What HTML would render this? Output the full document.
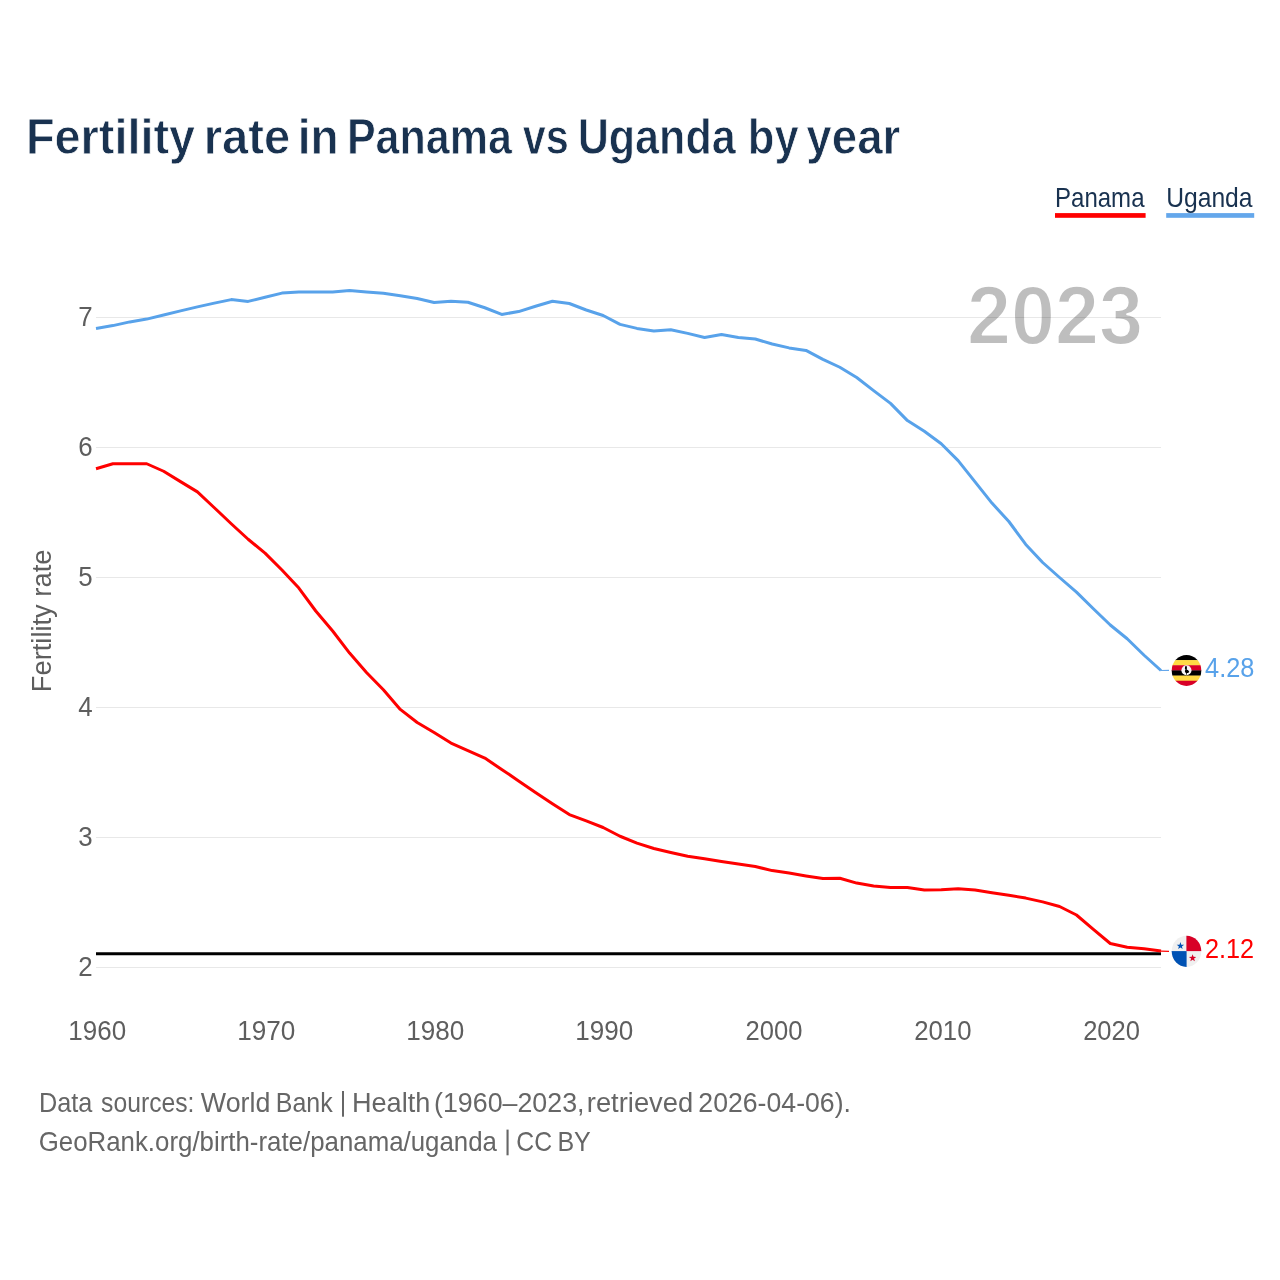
<!DOCTYPE html>
<html lang="en"><head><meta charset="utf-8"><title>Fertility rate in Panama vs Uganda by year</title>
<style>html,body{margin:0;padding:0;background:#fff;}body{width:1280px;height:1280px;overflow:hidden;}svg{display:block;font-family:"Liberation Sans",sans-serif;will-change:transform;}text{white-space:pre;}</style></head><body>
<svg width="1280" height="1280" viewBox="0 0 1280 1280">
<rect width="1280" height="1280" fill="#ffffff"/>
<text id="t1" x="967.07" y="343.9" textLength="175.94" lengthAdjust="spacingAndGlyphs" font-size="82.8" font-weight="700" fill="#bebebe" stroke="#ffffff" stroke-width="1.8" stroke-linejoin="round">2023</text>
<g stroke="#000000" stroke-opacity="0.092" stroke-width="1" shape-rendering="crispEdges">
<line x1="96.0" x2="1161.0" y1="317.5" y2="317.5"/>
<line x1="96.0" x2="1161.0" y1="447.5" y2="447.5"/>
<line x1="96.0" x2="1161.0" y1="577.5" y2="577.5"/>
<line x1="96.0" x2="1161.0" y1="707.5" y2="707.5"/>
<line x1="96.0" x2="1161.0" y1="837.5" y2="837.5"/>
<line x1="96.0" x2="1161.0" y1="967.5" y2="967.5"/>
</g>
<g font-size="27.2" fill="#5e5e5e" text-anchor="end">
<text x="92.6" y="326.20" textLength="14.4" lengthAdjust="spacingAndGlyphs">7</text>
<text x="92.6" y="456.20" textLength="14.4" lengthAdjust="spacingAndGlyphs">6</text>
<text x="92.6" y="586.20" textLength="14.4" lengthAdjust="spacingAndGlyphs">5</text>
<text x="92.6" y="716.20" textLength="14.4" lengthAdjust="spacingAndGlyphs">4</text>
<text x="92.6" y="846.20" textLength="14.4" lengthAdjust="spacingAndGlyphs">3</text>
<text x="92.6" y="976.20" textLength="14.4" lengthAdjust="spacingAndGlyphs">2</text>
</g>
<g font-size="27.0" fill="#5e5e5e">
<text id="t2" x="68.30" y="1040.1" textLength="57.80" lengthAdjust="spacingAndGlyphs">1960</text>
<text id="t3" x="237.24" y="1040.1" textLength="58.13" lengthAdjust="spacingAndGlyphs">1970</text>
<text id="t4" x="406.25" y="1040.1" textLength="58.00" lengthAdjust="spacingAndGlyphs">1980</text>
<text id="t5" x="575.29" y="1040.1" textLength="57.95" lengthAdjust="spacingAndGlyphs">1990</text>
<text id="t6" x="745.54" y="1040.1" textLength="56.93" lengthAdjust="spacingAndGlyphs">2000</text>
<text id="t7" x="914.20" y="1040.1" textLength="57.28" lengthAdjust="spacingAndGlyphs">2010</text>
<text id="t8" x="1083.16" y="1040.1" textLength="56.85" lengthAdjust="spacingAndGlyphs">2020</text>
</g>
<text transform="translate(51,692.2) rotate(-90)" font-size="26.8" fill="#5e5e5e" textLength="142.6" lengthAdjust="spacingAndGlyphs">Fertility rate</text>
<line x1="96" x2="1161" y1="953.75" y2="953.75" stroke="#000" stroke-width="3"/>
<polyline fill="none" stroke="#58a2ea" stroke-width="3" stroke-linejoin="round" stroke-linecap="butt" points="96.00,328.40 112.90,325.60 129.81,321.90 146.71,319.10 163.62,315.00 180.52,310.90 197.43,306.90 214.33,303.10 231.24,299.60 248.14,301.40 265.05,297.25 281.95,293.10 298.86,291.90 315.76,291.90 332.67,291.90 349.57,290.50 366.48,291.90 383.38,293.25 400.29,295.80 417.19,298.50 434.10,302.50 451.00,301.25 467.90,302.25 484.81,307.75 501.71,314.40 518.62,311.60 535.52,306.25 552.43,301.20 569.33,303.50 586.24,310.00 603.14,315.50 620.05,324.40 636.95,328.40 653.86,330.90 670.76,329.75 687.67,333.40 704.57,337.50 721.48,334.60 738.38,337.50 755.29,339.00 772.19,344.00 789.10,347.90 806.00,350.40 822.90,359.40 839.81,367.25 856.71,377.50 873.62,390.60 890.52,403.40 907.43,420.60 924.33,431.25 941.24,443.75 958.14,460.60 975.05,481.90 991.95,503.10 1008.86,521.50 1025.76,544.40 1042.67,562.50 1059.57,577.50 1076.48,592.10 1093.38,608.75 1110.29,625.00 1127.19,638.75 1144.10,655.25 1161.00,670.50"/>
<polyline fill="none" stroke="#ff0000" stroke-width="3" stroke-linejoin="round" stroke-linecap="butt" points="96.00,468.75 112.90,463.75 129.81,463.75 146.71,463.75 163.62,471.25 180.52,481.60 197.43,491.90 214.33,507.75 231.24,523.75 248.14,539.25 265.05,553.10 281.95,570.00 298.86,588.10 315.76,611.00 332.67,631.00 349.57,653.10 366.48,672.50 383.38,689.70 400.29,709.40 417.19,722.50 434.10,732.50 451.00,743.10 467.90,750.60 484.81,758.10 501.71,769.40 518.62,780.90 535.52,792.50 552.43,803.75 569.33,814.60 586.24,820.90 603.14,827.50 620.05,836.25 636.95,843.10 653.86,848.50 670.76,852.50 687.67,856.25 704.57,858.75 721.48,861.50 738.38,864.00 755.29,866.50 772.19,870.60 789.10,873.10 806.00,875.90 822.90,878.50 839.81,878.25 856.71,883.10 873.62,886.00 890.52,887.50 907.43,887.50 924.33,890.00 941.24,889.75 958.14,888.75 975.05,890.00 991.95,892.75 1008.86,895.25 1025.76,898.10 1042.67,901.90 1059.57,906.50 1076.48,915.00 1093.38,929.40 1110.29,943.50 1127.19,947.25 1144.10,948.75 1161.00,951.10"/>
<line x1="1161" x2="1169" y1="670.50" y2="670.4" stroke="#64a7eb" stroke-width="1.2"/>
<line x1="1161" x2="1169" y1="951.10" y2="951.3" stroke="#ff0000" stroke-width="1.2"/>
<defs><clipPath id="cu"><ellipse cx="1186.5" cy="670.4" rx="14.8" ry="15.5"/></clipPath><clipPath id="cp"><ellipse cx="1186.5" cy="951.3" rx="14.8" ry="15.6"/></clipPath></defs>
<g clip-path="url(#cu)">
<rect x="1170" y="654.90" width="34" height="5.47" fill="#000000"/>
<rect x="1170" y="660.07" width="34" height="5.47" fill="#ffda44"/>
<rect x="1170" y="665.23" width="34" height="5.47" fill="#d80027"/>
<rect x="1170" y="670.40" width="34" height="5.47" fill="#000000"/>
<rect x="1170" y="675.57" width="34" height="5.47" fill="#ffda44"/>
<rect x="1170" y="680.73" width="34" height="5.47" fill="#d80027"/>
<circle cx="1186.45" cy="670.2" r="5.05" fill="#f6f6f6"/>
<path d="M1185.1 666.3 L1186.9 666.2 L1186.9 668.6 L1186.6 669.6 Q1187.9 669.9 1188.4 670.5 L1189.2 671.7 Q1188.8 672.6 1188.0 672.9 L1187.0 673.1 L1186.9 674.8 L1186.2 674.8 L1186.2 673.1 Q1185.4 672.8 1185.2 672.2 Q1184.8 671.4 1184.9 670.8 L1185.5 669.6 L1184.9 668.7 Z" fill="#000"/>
</g>
<g clip-path="url(#cp)">
<rect x="1170" y="934" width="34" height="34" fill="#f0f0f0"/>
<rect x="1186.4" y="934" width="18" height="17.1" fill="#d80027"/>
<rect x="1170" y="951.1" width="16.6" height="18" fill="#0052b4"/>
<polygon points="1180.40,942.00 1181.32,944.64 1184.11,944.69 1181.88,946.38 1182.69,949.06 1180.40,947.46 1178.11,949.06 1178.92,946.38 1176.69,944.69 1179.48,944.64" fill="#0052b4"/>
<polygon points="1192.60,954.20 1193.52,956.84 1196.31,956.89 1194.08,958.58 1194.89,961.26 1192.60,959.66 1190.31,961.26 1191.12,958.58 1188.89,956.89 1191.68,956.84" fill="#d80027"/>
</g>
<text id="t9" x="1205.08" y="677" textLength="49.34" lengthAdjust="spacingAndGlyphs" font-size="27.2" fill="#58a2ea">4.28</text>
<text id="t10" x="1204.96" y="958.2" textLength="49.08" lengthAdjust="spacingAndGlyphs" font-size="27.2" fill="#ff0000">2.12</text>
<text id="t11" x="1054.99" y="207.3" textLength="89.54" lengthAdjust="spacingAndGlyphs" font-size="26.9" fill="#193250">Panama</text>
<rect x="1055" y="213.1" width="90.6" height="4.7" fill="#ff0000"/>
<text id="t12" x="1166.18" y="207.3" textLength="86.38" lengthAdjust="spacingAndGlyphs" font-size="26.9" fill="#193250">Uganda</text>
<rect x="1166.2" y="213.1" width="88" height="4.7" fill="#64a7eb"/>
<g font-size="50.8" font-weight="700" fill="#193250" stroke="#ffffff" stroke-width="0.8" stroke-linejoin="round">
<text id="t13" x="25.97" y="153.65" textLength="169.14" lengthAdjust="spacingAndGlyphs">Fertility</text>
<text id="t14" x="203.76" y="153.65" textLength="86.41" lengthAdjust="spacingAndGlyphs">rate</text>
<text id="t15" x="297.84" y="153.65" textLength="40.88" lengthAdjust="spacingAndGlyphs">in</text>
<text id="t16" x="346.88" y="153.65" textLength="165.00" lengthAdjust="spacingAndGlyphs">Panama</text>
<text id="t17" x="522.67" y="153.65" textLength="46.09" lengthAdjust="spacingAndGlyphs">vs</text>
<text id="t18" x="577.64" y="153.65" textLength="158.10" lengthAdjust="spacingAndGlyphs">Uganda</text>
<text id="t19" x="747.80" y="153.65" textLength="50.91" lengthAdjust="spacingAndGlyphs">by</text>
<text id="t20" x="806.26" y="153.65" textLength="94.13" lengthAdjust="spacingAndGlyphs">year</text>
</g>
<g font-size="26.9" fill="#666666">
<text id="t21" x="38.88" y="1112" textLength="53.45" lengthAdjust="spacingAndGlyphs">Data</text>
<text id="t22" x="101.12" y="1112" textLength="93.34" lengthAdjust="spacingAndGlyphs">sources:</text>
<text id="t23" x="200.83" y="1112" textLength="69.54" lengthAdjust="spacingAndGlyphs">World</text>
<text id="t24" x="275.78" y="1112" textLength="56.89" lengthAdjust="spacingAndGlyphs">Bank</text>
<rect x="342.00" y="1091" width="2.00" height="25.7"/>
<text id="t25" x="351.92" y="1112" textLength="78.41" lengthAdjust="spacingAndGlyphs">Health</text>
<text id="t26" x="434.02" y="1112" textLength="150.50" lengthAdjust="spacingAndGlyphs">(1960–2023,</text>
<text id="t27" x="586.80" y="1112" textLength="106.42" lengthAdjust="spacingAndGlyphs">retrieved</text>
<text id="t28" x="698.32" y="1112" textLength="152.66" lengthAdjust="spacingAndGlyphs">2026-04-06).</text>
<text id="t29" x="38.72" y="1150.6" textLength="458.21" lengthAdjust="spacingAndGlyphs">GeoRank.org/birth-rate/panama/uganda</text>
<rect x="506.50" y="1129.6" width="2.10" height="25.7"/>
<text id="t30" x="516.33" y="1150.6" textLength="35.78" lengthAdjust="spacingAndGlyphs">CC</text>
<text id="t31" x="557.42" y="1150.6" textLength="33.38" lengthAdjust="spacingAndGlyphs">BY</text>
</g>
</svg></body></html>
